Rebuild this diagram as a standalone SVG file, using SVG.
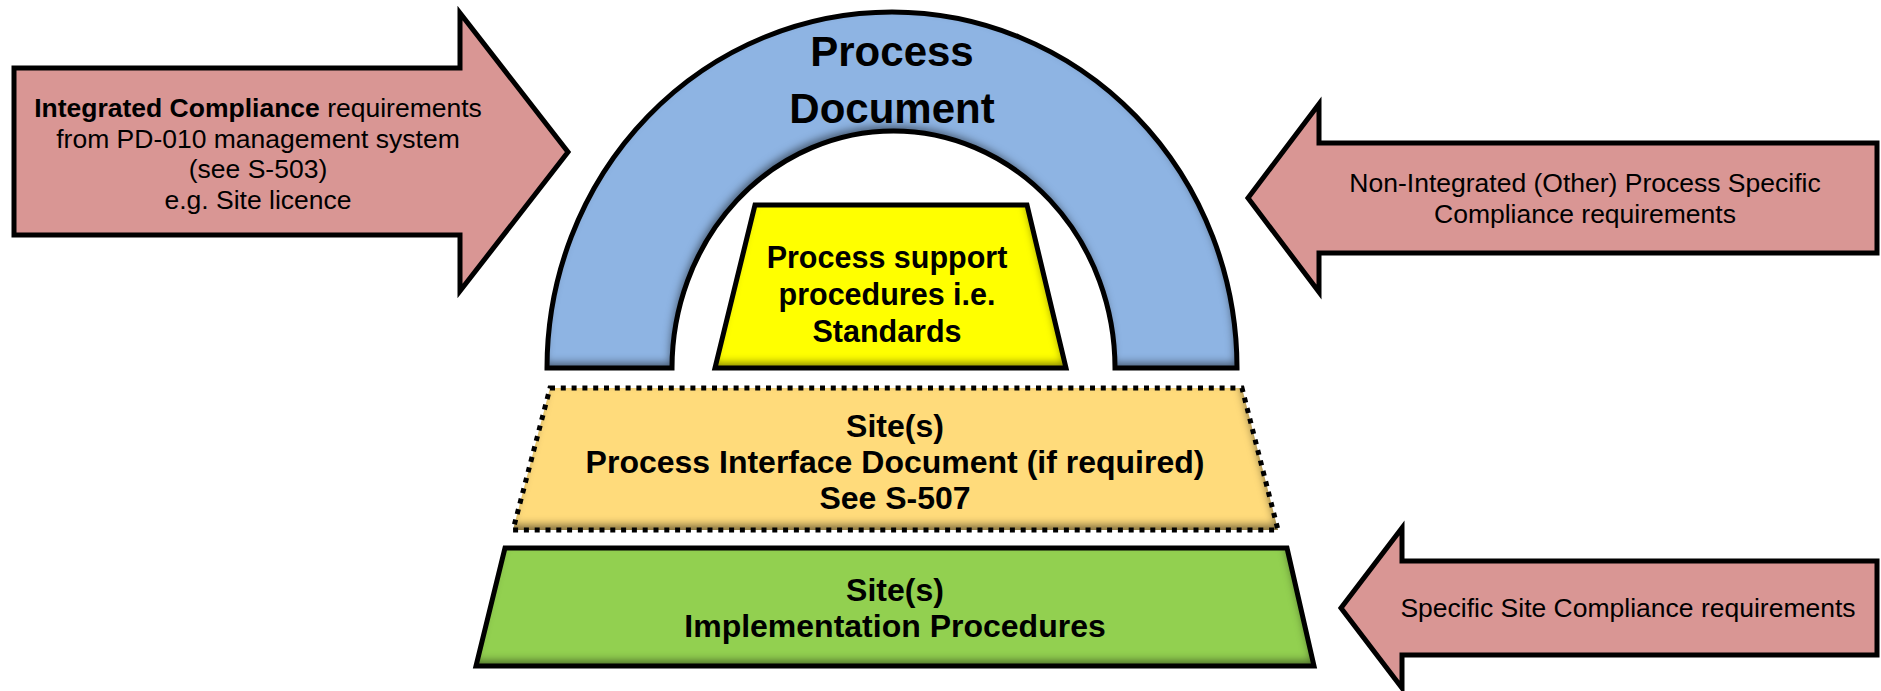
<svg xmlns="http://www.w3.org/2000/svg" width="1881" height="691" viewBox="0 0 1881 691">
  <style>
    .edge { fill: none; stroke: #000; stroke-width: 5; stroke-linejoin: miter; }
    .dotted { fill: none; stroke: #000; stroke-width: 5; stroke-dasharray: 5 5.8; }
    .arrow { fill: #D99694; stroke: #000; stroke-width: 5; stroke-linejoin: miter; }
    .note { font-family: "Liberation Sans", Arial, sans-serif; font-size: 26.5px; fill: #000; text-anchor: middle; }
    .label { font-family: "Liberation Sans", Arial, sans-serif; font-weight: bold; fill: #000; text-anchor: middle; }
  </style>
  <defs>
    <!-- soft inner shading along the lower/right edges of a filled shape -->
    <filter id="bevel" x="-10%" y="-20%" width="120%" height="140%" color-interpolation-filters="sRGB">
      <feComponentTransfer in="SourceAlpha" result="inv">
        <feFuncA type="table" tableValues="1 0"/>
      </feComponentTransfer>
      <feOffset in="inv" dx="-2" dy="-5" result="off"/>
      <feGaussianBlur in="off" stdDeviation="4" result="blur"/>
      <feFlood flood-color="#000" flood-opacity="0.5" result="col"/>
      <feComposite in="col" in2="blur" operator="in" result="sh"/>
      <feComposite in="sh" in2="SourceAlpha" operator="in" result="inner"/>
      <feMerge>
        <feMergeNode in="SourceGraphic"/>
        <feMergeNode in="inner"/>
      </feMerge>
    </filter>
  </defs>

  <!-- incoming requirement arrows -->
  <g id="integrated-compliance">
    <polygon class="arrow" points="14,68 460,68 460,13 568,152 460,291 460,235 14,235"/>
    <text class="note" x="258" y="117"><tspan font-weight="bold">Integrated Compliance</tspan> requirements</text>
    <text class="note" x="258" y="147.5">from PD-010 management system</text>
    <text class="note" x="258" y="178">(see S-503)</text>
    <text class="note" x="258" y="208.5">e.g. Site licence</text>
  </g>

  <g id="non-integrated-compliance">
    <polygon class="arrow" points="1877,143 1319,143 1319,104 1248,198 1319,292 1319,253 1877,253"/>
    <text class="note" x="1585" y="192">Non-Integrated (Other) Process Specific</text>
    <text class="note" x="1585" y="223">Compliance requirements</text>
  </g>

  <g id="site-compliance">
    <polygon class="arrow" points="1877,561 1402,561 1402,528 1341,608 1402,688 1402,655 1877,655"/>
    <text class="note" x="1628" y="617">Specific Site Compliance requirements</text>
  </g>

  <!-- arch: process document -->
  <g id="process-document">
    <path d="M547,368 A345,356 0 0 1 1237,368 L1115,368 A221.5,237 0 0 0 672,368 Z" fill="#8EB4E3" filter="url(#bevel)"/>
    <path class="edge" d="M547,368 A345,356 0 0 1 1237,368 L1115,368 A221.5,237 0 0 0 672,368 Z"/>
    <text class="label" x="892" y="66" font-size="42">Process</text>
    <text class="label" x="892" y="123" font-size="42">Document</text>
  </g>

  <!-- standards under the arch -->
  <g id="process-support">
    <polygon points="755,205 1027,205 1066,368 715,368" fill="#FFFF00" filter="url(#bevel)"/>
    <polygon class="edge" points="755,205 1027,205 1066,368 715,368"/>
    <text class="label" x="887" y="268" font-size="30.5">Process support</text>
    <text class="label" x="887" y="305" font-size="30.5">procedures i.e.</text>
    <text class="label" x="887" y="342" font-size="30.5">Standards</text>
  </g>

  <!-- optional interface layer -->
  <g id="process-interface">
    <polygon points="550,388 1242,388 1278,530 513,530" fill="#FFDB7B" filter="url(#bevel)"/>
    <polygon class="dotted" points="550,388 1242,388 1278,530 513,530"/>
    <text class="label" x="895" y="437" font-size="32">Site(s)</text>
    <text class="label" x="895" y="473" font-size="32">Process Interface Document (if required)</text>
    <text class="label" x="895" y="509" font-size="32">See S-507</text>
  </g>

  <!-- base layer -->
  <g id="implementation-procedures">
    <polygon points="505,548 1287,548 1314,666 476,666" fill="#92D050" filter="url(#bevel)"/>
    <polygon class="edge" points="505,548 1287,548 1314,666 476,666"/>
    <text class="label" x="895" y="601" font-size="32">Site(s)</text>
    <text class="label" x="895" y="637" font-size="32">Implementation Procedures</text>
  </g>
</svg>
